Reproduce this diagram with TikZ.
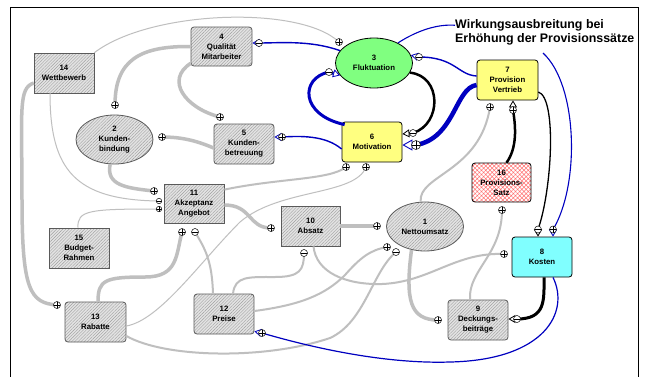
\documentclass[tikz,border=0pt]{standalone}
\usepackage{fontspec}
\setmainfont{Liberation Sans}
\usetikzlibrary{shapes.geometric,arrows.meta,patterns.meta}
\definecolor{lg}{HTML}{BFBFBF}
\definecolor{bd}{HTML}{5A5A5A}
\definecolor{dblue}{HTML}{0000C0}
\definecolor{ylw}{HTML}{FFFF80}
\definecolor{grn}{HTML}{80FF80}
\definecolor{cyn}{HTML}{80FFFF}
\begin{document}
\begin{tikzpicture}[x=1pt,y=-1pt,
 nd/.style={draw=bd, line width=0.8pt, minimum width=60pt, minimum height=40pt, inner sep=0pt, align=center, font=\bfseries\fontsize{7.8}{10}\selectfont},
 hatch/.style={preaction={fill=gray!22}, pattern={Lines[angle=45,distance=2.2pt,line width=0.4pt]}, pattern color=gray!75},
 sq/.style={nd, rectangle, hatch},
 rd/.style={nd, rectangle, rounded corners=3pt, hatch},
 el/.style={nd, ellipse, minimum width=77pt, minimum height=49pt, hatch},
 yl/.style={nd, rectangle, rounded corners=3pt, fill=ylw, draw=black},
 gthk/.style={draw=lg, line width=3.5pt},
 gmed/.style={draw=lg, line width=2pt},
 gthn/.style={draw=lg, line width=1pt},
 blu/.style={draw=dblue, line width=1.4pt},
 blk/.style={draw=black},
 atip/.style={-{Triangle[fill=white,line width=0.8pt,length=7pt,width=8pt]}},
 atipb/.style={-{Triangle[fill=white,line width=0.9pt,length=10pt,width=11pt]}},
 mk/.style={circle, draw=black, fill=white, line width=0.5pt, minimum size=7pt, inner sep=0pt},
 pls/.style={mk, path picture={\draw[line width=0.5pt] (path picture bounding box.west) -- (path picture bounding box.east) (path picture bounding box.north) -- (path picture bounding box.south);}},
 mns/.style={mk, path picture={\draw[line width=0.5pt] (path picture bounding box.west) -- (path picture bounding box.east);}},
]
\useasboundingbox (0,0) rectangle (648,376);
\clip (0,0) rectangle (648,376);
\fill[white] (0,0) rectangle (648,376);
\draw[line width=1.6pt] (10.5,7.5) rectangle (638.5,390);

% nodes
\node[sq] (n14) at (64,73) {14\\Wettbewerb};
\node[rd, minimum width=61pt, minimum height=39pt] (n4) at (221.5,46.5) {4\\Qualität\\Mitarbeiter};
\node[el] (n2) at (114.5,139.5) {2\\Kunden-\\bindung};
\node[rd] (n5) at (244,144) {5\\Kunden-\\betreuung};
\node[nd, ellipse, minimum width=77pt, minimum height=50pt, fill=grn, draw=black] (n3) at (374,63) {3\\Fluktuation};
\node[yl, minimum width=61pt] (n7) at (507.5,80) {7\\Provision\\Vertrieb};
\node[yl] (n6) at (372,142) {6\\Motivation};
\node[nd, rectangle, rounded corners=3pt, minimum width=59pt, minimum height=39pt, draw=black, preaction={fill=white}, pattern={Hatch[angle=45,distance=3pt,line width=0.5pt]}, pattern color=red!55] (n16) at (501.5,182.5) {16\\Provisions-\\Satz};
\node[el] (n1) at (425,226.5) {1\\Nettoumsatz};
\node[nd, rectangle, rounded corners=3pt, fill=cyn, draw=black] (n8) at (542,257) {8\\Kosten};
\node[rd] (n9) at (478,320) {9\\Deckungs-\\beiträge};
\node[sq, minimum height=39pt] (n11) at (194,203.5) {11\\Akzeptanz\\Angebot};
\node[sq, minimum width=59pt] (n10) at (310.5,226) {10\\Absatz};
\node[sq] (n15) at (79,248) {15\\Budget-\\Rahmen};
\node[rd, minimum width=61pt] (n13) at (95.5,322) {13\\Rabatte};
\node[rd] (n12) at (224,314) {12\\Preise};
\node[anchor=north west, align=left, inner sep=0pt, font=\bfseries\fontsize{12.4}{14.5}\selectfont] (lbl) at (455,19) {Wirkungsausbreitung bei\\Erhöhung der Provisionssätze};

% marker positions
\coordinate (c1) at (339,42);
\coordinate (c2) at (115,105);
\coordinate (c3) at (220,117);
\coordinate (c4) at (162,137);
\coordinate (c5) at (259,43);
\coordinate (c6) at (329,72);
\coordinate (c7) at (413,133);
\coordinate (c8) at (416,145);
\coordinate (c9) at (419,57);
\coordinate (c10) at (282,137);
\coordinate (c11) at (553,229.5);
\coordinate (c12) at (262,333);
\coordinate (c13) at (538,229.5);
\coordinate (c14) at (513,110);
\coordinate (c15) at (517,319);
\coordinate (c16) at (438,320);
\coordinate (c17) at (502,210);
\coordinate (c18) at (490,107);
\coordinate (c19) at (377,226);
\coordinate (c20) at (271,228);
\coordinate (c21) at (154,191);
\coordinate (c22) at (159,201);
\coordinate (c23) at (159,209);
\coordinate (c24) at (57,305);
\coordinate (c25) at (182,232);
\coordinate (c26) at (195,232);
\coordinate (c27) at (304,253);
\coordinate (c28) at (387,247);
\coordinate (c29) at (396,252);
\coordinate (c30) at (366,167);
\coordinate (c31) at (346,167);
\coordinate (c32) at (504,254);
\coordinate (lp) at (543,53);

% gray thin links
\draw[gthn] (n14.north east) .. controls (150,10) and (300,5) .. (c1);
\draw[gthn] ([xshift=-14pt]n14.south) .. controls (50,170) and (75,200) .. (c22);
\draw[gthn] ([xshift=-1pt]n15.north) .. controls (77,210) and (90,209) .. (c23);
\draw[gthn] ([yshift=-4pt]n13.east) .. controls (160,320) and (200,262) .. (240,222) .. controls (280,188) and (355,196) .. (c30);

% gray medium links
\draw[gmed] ([xshift=-8pt]n9.north) .. controls (468,270) and (502,255) .. (c17);
\draw[gmed] (n1.100) .. controls (418,175) and (480,172) .. (c18);
\draw[gmed] ([xshift=-11pt]n12.north) .. controls (212,262) and (206,250) .. (c26);
\draw[gmed] ([xshift=9pt]n12.north) .. controls (235,276) and (248,277) .. (275,277) .. controls (300,277) and (304,270) .. (c27);
\draw[gmed] ([yshift=3pt]n12.east) .. controls (300,305) and (325,295) .. (345,275) .. controls (360,258) and (370,250) .. (c28);
\draw[gmed] ([yshift=-14pt]n13.east) .. controls (165,358) and (265,360) .. (330,338) .. controls (365,322) and (372,272) .. (c29);
\draw[gmed] ([yshift=-6pt]n11.north east) .. controls (280,178) and (330,180) .. (c31);
\draw[gmed] ([xshift=3pt]n10.south) .. controls (316,272) and (345,285) .. (382,284) .. controls (430,282) and (455,252) .. (c32);

% gray thick links
\draw[gthk] (n4.west) .. controls (140,46) and (115,60) .. (c2);
\draw[gthk] ([yshift=3pt]n4.south west) .. controls (165,80) and (185,108) .. (c3);
\draw[gthk] ([yshift=-4pt]n5.west) .. controls (195,140) and (180,137) .. (c4);
\draw[gthk] (n10.east) -- (c19);
\draw[gthk] ([yshift=-1.5pt]n11.east) .. controls (252,205) and (248,228) .. (c20);
\draw[gthk] (n2.260) .. controls (106,185) and (125,188) .. (c21);
\draw[gthk] ([yshift=-10pt]n14.west) .. controls (18,88) and (22,110) .. (22,200) .. controls (22,290) and (30,303) .. (c24);
\draw[gthk] ([xshift=2.5pt]n13.north) .. controls (98,280) and (105,277) .. (145,277) .. controls (178,277) and (176,255) .. (c25);
\draw[gthk] (n1.240) .. controls (405,300) and (410,320) .. (c16);

% blue links
\draw[blu, atip] (n3.160) .. controls (310,40) and (280,43) .. (c5) -- (n4.east |- c5);
\draw[blu, line width=3pt, atip] ([xshift=3pt,yshift=-3pt]n6.north west) .. controls (300,115) and (300,78) .. (c6) -- (n3.200);
\draw[blu, line width=4.5pt, atipb] ([yshift=-5pt]n7.west) .. controls (455,88) and (455,138) .. (c8) -- ([yshift=-3pt]n6.east);
\draw[blu, atip] ([yshift=4pt]n7.west) .. controls (458,75) and (455,57) .. (c9) -- (n3.12);
\draw[blu, atip] ([yshift=-7pt]n6.west) .. controls (325,135) and (300,136) .. (c10) -- (n5.east |- c10);
\draw[blu, line width=1.1pt] (n3.40) .. controls (418,30) and (438,24) .. ([yshift=7pt]lbl.west);
\draw[blu, line width=1.1pt, atip] (lp) .. controls (578,85) and (580,185) .. (c11) -- (c11 |- n8.north);
\draw[blu, line width=1.2pt, atip] ([xshift=11pt]n8.south) .. controls (570,312) and (545,360) .. (450,362) .. controls (390,364) and (320,350) .. (c12) -- ([yshift=3pt]n12.south east);

% black links
\draw[blk, line width=2.5pt, atip] (n3.-15) .. controls (442,76) and (442,124) .. (c7) -- ([yshift=8pt]n6.east);
\draw[blk, line width=1.3pt, atip] ([yshift=-12pt]n7.east) .. controls (557,98) and (552,190) .. (c13) -- (c13 |- n8.north);
\draw[blk, line width=2.5pt, atip] ([xshift=5pt]n16.north) .. controls (517,148) and (516,128) .. (c14) -- (c14 |- n7.south);
\draw[blk, line width=3pt, atip] ([xshift=2pt]n8.south) .. controls (544,300) and (546,319) .. (c15) -- (n9.east |- c15);

% polarity markers
\node[pls] (m1) at (c1) {};
\node[pls] (m2) at (c2) {};
\node[pls] (m3) at (c3) {};
\node[pls] (m4) at (c4) {};
\node[mns] (m5) at (c5) {};
\node[mns] (m6) at (c6) {};
\node[mns] (m7) at (c7) {};
\node[pls, minimum size=9pt] (m8) at (c8) {};
\node[mns] (m9) at (c9) {};
\node[pls] (m10) at (c10) {};
\node[pls] (m11) at (c11) {};
\node[pls] (m12) at (c12) {};
\node[mns] (m13) at (c13) {};
\node[pls] (m14) at (c14) {};
\node[mns] (m15) at (c15) {};
\node[pls] (m16) at (c16) {};
\node[pls] (m17) at (c17) {};
\node[pls] (m18) at (c18) {};
\node[pls] (m19) at (c19) {};
\node[pls] (m20) at (c20) {};
\node[pls] (m21) at (c21) {};
\node[mns, minimum size=5.5pt] (m22) at (c22) {};
\node[pls, minimum size=5.5pt] (m23) at (c23) {};
\node[pls] (m24) at (c24) {};
\node[pls] (m25) at (c25) {};
\node[mns] (m26) at (c26) {};
\node[mns] (m27) at (c27) {};
\node[pls] (m28) at (c28) {};
\node[mns] (m29) at (c29) {};
\node[pls] (m30) at (c30) {};
\node[pls] (m31) at (c31) {};
\node[pls] (m32) at (c32) {};
\end{tikzpicture}
\end{document}
